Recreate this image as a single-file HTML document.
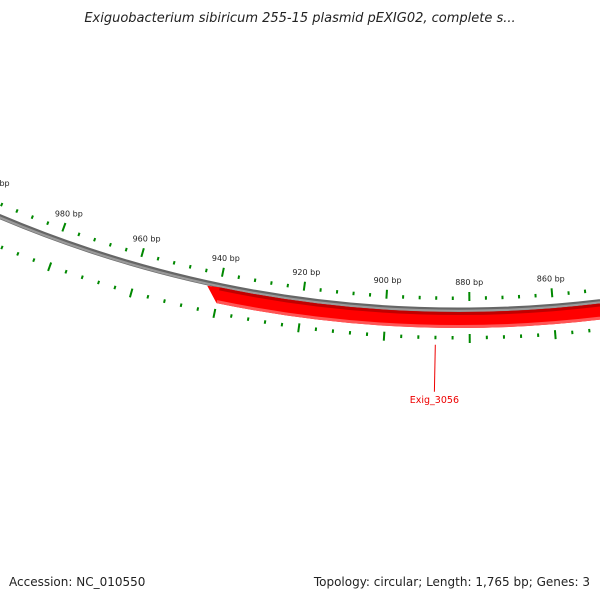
<!DOCTYPE html>
<html><head><meta charset="utf-8"><style>
html,body{margin:0;padding:0;background:#fff;width:600px;height:600px;overflow:hidden}
svg{display:block}
</style></head><body>
<svg id="map" width="600" height="600" viewBox="0 0 600 600" xmlns="http://www.w3.org/2000/svg" font-family="DejaVu Sans, Liberation Sans, sans-serif">
<defs>
<linearGradient id="gb" x1="0" y1="0" x2="0" y2="1"><stop offset="0" stop-color="#555"/><stop offset="0.5" stop-color="#999"/><stop offset="1" stop-color="#777"/></linearGradient>
</defs>
<text x="300" y="22" text-anchor="middle" font-size="13" font-style="italic" fill="#222">Exiguobacterium sibiricum 255-15 plasmid pEXIG02, complete s...</text>
<g id="layer"></g>
<text x="9" y="586" font-size="12" fill="#222">Accession: NC_010550</text>
<text x="590" y="586" text-anchor="end" font-size="12" fill="#222">Topology: circular; Length: 1,765 bp; Genes: 3</text>
</svg>
<script>
const seqLength = 1765;
const majorTicks = [840, 860, 880, 900, 920, 940, 960, 980, 1000];
const tickLabels = ["840 bp","860 bp","880 bp","900 bp","920 bp","940 bp","960 bp","980 bp","1000 bp"];
const featureNames = ["Exig_3056"];
const featureStarts = [780];
const featureEnds = [943];
const featureLabelPos = [888];

const cx = 459, cy = -865, R = 1175;
const NS = "http://www.w3.org/2000/svg";
const layer = document.getElementById('layer');
function ang(bp){ return bp/seqLength*2*Math.PI; }
function pt(bp,r){ const a=ang(bp); return [cx + r*Math.sin(a), cy - r*Math.cos(a)]; }
function mk(tag, attrs){ const e=document.createElementNS(NS,tag); for(const k in attrs) e.setAttribute(k,attrs[k]); layer.appendChild(e); return e; }
function arcPath(b1,b2,r){ const p1=pt(b1,r), p2=pt(b2,r); return `M${p1[0]},${p1[1]} A${r},${r} 0 0 1 ${p2[0]},${p2[1]}`; }

// backbone
let bb = mk('path',{d:arcPath(700,1060,R),fill:'none',stroke:'#666','stroke-width':5});


let bb2 = mk('path',{d:arcPath(700,1060,R+0.8),fill:'none',stroke:'#9a9a9a','stroke-width':2.2});



// features
featureNames.forEach((name,i)=>{
  const s=featureStarts[i], e=featureEnds[i];
  const head = 3;
  const r1=1177, r2=1193, rm=(r1+r2)/2;
  const a=pt(s,r1), b=pt(e-head,r1), c=pt(e,r1+1), d=pt(e-head,r2), f=pt(s,r2);
  const dpath=`M${a[0]},${a[1]} A${r1},${r1} 0 0 1 ${b[0]},${b[1]} L${c[0]},${c[1]} L${d[0]},${d[1]} A${r2},${r2} 0 0 0 ${f[0]},${f[1]} Z`;
  let g = mk('path',{d:dpath,fill:'#ff0000'});
  
  
  let t = mk('path',{d:arcPath(s,e-head,r1+1.5),fill:'none',stroke:'#c00000','stroke-width':3});
  
  
  let bo = mk('path',{d:arcPath(s,e-head,r2-1.5),fill:'none',stroke:'#ff5555','stroke-width':3});
  
  
  const lp=featureLabelPos[i];
  const p1=pt(lp,1210), p2=pt(lp,1257);
  let ln = mk('line',{x1:p1[0],y1:p1[1],x2:p2[0],y2:p2[1],stroke:'#e00','stroke-width':1});
  
  
  let tx = mk('text',{x:p2[0],y:p2[1]+11,'text-anchor':'middle','font-size':9.5,fill:'#e00'});
  tx.textContent=name;
  
  
});

// ticks
for(let bp=800; bp<=1040; bp+=4){
  const major = majorTicks.includes(bp);
  [[1157,1166,1161.5,1165],[1199,1208,1201,1204.5]].forEach((rr,j)=>{
    const a=pt(bp, major?rr[0]:rr[2]), b=pt(bp, major?rr[1]:rr[3]);
    let l = mk('line',{x1:a[0],y1:a[1],x2:b[0],y2:b[1],stroke:'#008800','stroke-width':2});
    
    
  });
}
majorTicks.forEach((bp,i)=>{
  const p=pt(bp,1147);
  let t = mk('text',{x:p[0],y:p[1]+3,'text-anchor':'middle','font-size':8,fill:'#222'});
  t.textContent=tickLabels[i];
  
  
});
</script>
</body></html>
